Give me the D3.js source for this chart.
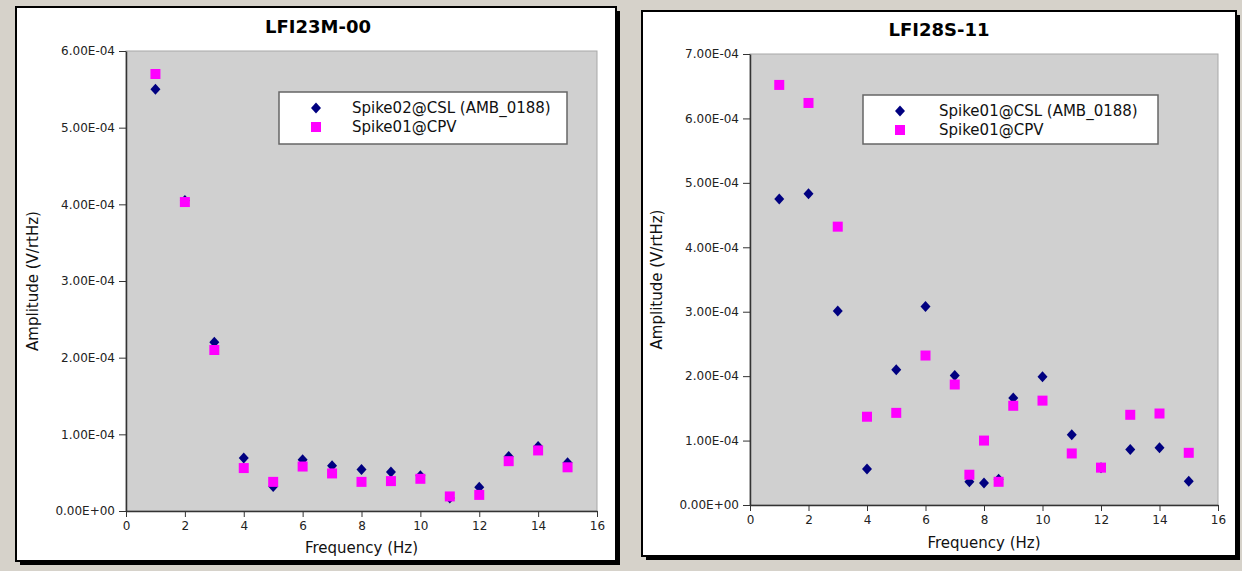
<!DOCTYPE html>
<html>
<head>
<meta charset="utf-8">
<script src="https://cdn.jsdelivr.net/npm/d3@7"></script>
<style>
  html, body { margin: 0; padding: 0; background: #d6d2ca; }
  svg { display: block; font-family: "DejaVu Sans", sans-serif; }
</style>
</head>
<body>
<svg id="chart" width="1242" height="571"></svg>
<script>
// left panel: LFI23M-00
const leftFreq = [1, 2, 3, 4, 5, 6, 7, 8, 9, 10, 11, 12, 13, 14, 15];
const leftCsl = [5.50e-4, 4.05e-4, 2.20e-4, 0.69e-4, 0.32e-4, 0.67e-4, 0.59e-4, 0.54e-4, 0.51e-4, 0.46e-4, 0.17e-4, 0.31e-4, 0.71e-4, 0.84e-4, 0.63e-4];
const leftCpv = [5.70e-4, 4.03e-4, 2.10e-4, 0.56e-4, 0.38e-4, 0.58e-4, 0.49e-4, 0.38e-4, 0.39e-4, 0.42e-4, 0.19e-4, 0.21e-4, 0.65e-4, 0.79e-4, 0.57e-4];

// right panel: LFI28S-11
const rightFreq = [1, 2, 3, 4, 5, 6, 7, 7.5, 8, 8.5, 9, 10, 11, 12, 13, 14, 15];
const rightCsl = [4.75e-4, 4.83e-4, 3.01e-4, 0.56e-4, 2.10e-4, 3.08e-4, 2.01e-4, 0.36e-4, 0.34e-4, 0.40e-4, 1.66e-4, 1.99e-4, 1.09e-4, 0.58e-4, 0.86e-4, 0.89e-4, 0.37e-4];
const rightCpv = [6.52e-4, 6.24e-4, 4.32e-4, 1.37e-4, 1.43e-4, 2.32e-4, 1.87e-4, 0.47e-4, 1.00e-4, 0.36e-4, 1.54e-4, 1.62e-4, 0.80e-4, 0.58e-4, 1.40e-4, 1.42e-4, 0.81e-4];

const xTicks = [0, 2, 4, 6, 8, 10, 12, 14, 16];
const leftYTicks = [0, 1e-4, 2e-4, 3e-4, 4e-4, 5e-4, 6e-4];
const rightYTicks = [0, 1e-4, 2e-4, 3e-4, 4e-4, 5e-4, 6e-4, 7e-4];

const svg = d3.select("#chart");

// 6.00E-04 style labels
function sci(v) {
  if (v === 0) return "0.00E+00";
  const e = Math.floor(Math.log10(Math.abs(v)) + 1e-9);
  const m = v / Math.pow(10, e);
  const sign = e < 0 ? "-" : "+";
  return m.toFixed(2) + "E" + sign + String(Math.abs(e)).padStart(2, "0");
}

// excel style marker, a bit wider than d3's diamond
const diamondPath = "M0,-5.5L5,0L0,5.5L-5,0Z";

function drawPanel(cfg) {
  const g = svg.append("g");

  // shadow + white frame
  g.append("rect")
    .attr("x", cfg.box[0] + 4).attr("y", cfg.box[1] + 4)
    .attr("width", cfg.box[2] - cfg.box[0]).attr("height", cfg.box[3] - cfg.box[1])
    .attr("fill", "#000");
  g.append("rect")
    .attr("x", cfg.box[0]).attr("y", cfg.box[1])
    .attr("width", cfg.box[2] - cfg.box[0]).attr("height", cfg.box[3] - cfg.box[1])
    .attr("fill", "#fff").attr("stroke", "#000").attr("stroke-width", 2);

  const x = d3.scaleLinear().domain([0, 16]).range([cfg.plot.left, cfg.plot.right]);
  const y = d3.scaleLinear().domain(cfg.yDomain).range([cfg.plot.bottom, cfg.plot.top]);

  g.append("rect")
    .attr("x", cfg.plot.left).attr("y", cfg.plot.top)
    .attr("width", cfg.plot.right - cfg.plot.left)
    .attr("height", cfg.plot.bottom - cfg.plot.top)
    .attr("fill", "#d0d0d0").attr("stroke", "#a8a8a8").attr("stroke-width", 1);

  const xAxis = g.append("g")
    .attr("transform", `translate(0,${cfg.plot.bottom})`)
    .call(d3.axisBottom(x).tickValues(xTicks).tickSize(6).tickSizeOuter(0));
  const yAxis = g.append("g")
    .attr("transform", `translate(${cfg.plot.left},0)`)
    .call(d3.axisLeft(y).tickValues(cfg.yTicks).tickFormat(sci).tickSize(7).tickSizeOuter(0));
  [xAxis, yAxis].forEach(a => {
    a.select(".domain").attr("stroke", "#333").attr("stroke-width", 1.5);
    a.selectAll(".tick line").attr("stroke", "#333");
    a.selectAll("text").attr("fill", "#222").style("font-family", "DejaVu Sans").style("font-size", "12px");
  });
  xAxis.selectAll("text").attr("y", 9).attr("dy", "0.8em");
  yAxis.selectAll("text").attr("x", -11);

  g.append("text")
    .attr("x", cfg.titleX).attr("y", cfg.titleY)
    .attr("text-anchor", "middle")
    .style("font-size", "18px").style("font-weight", "bold")
    .text(cfg.title);

  g.append("text")
    .attr("x", (cfg.plot.left + cfg.plot.right) / 2)
    .attr("y", cfg.xLabelY)
    .attr("text-anchor", "middle")
    .style("font-size", "15px").attr("fill", "#111")
    .text("Frequency (Hz)");

  g.append("text")
    .attr("transform", `translate(${cfg.yLabelX},${(cfg.plot.top + cfg.plot.bottom) / 2}) rotate(-90)`)
    .attr("text-anchor", "middle")
    .style("font-size", "15px").attr("fill", "#111")
    .text("Amplitude (V/rtHz)");

  g.append("g").selectAll("path")
    .data(cfg.freq.map((f, i) => [f, cfg.csl[i]]))
    .join("path")
    .attr("d", diamondPath)
    .attr("transform", d => `translate(${x(d[0])},${y(d[1])})`)
    .attr("fill", "#000080");

  g.append("g").selectAll("rect")
    .data(cfg.freq.map((f, i) => [f, cfg.cpv[i]]))
    .join("rect")
    .attr("x", d => x(d[0]) - 5).attr("y", d => y(d[1]) - 5)
    .attr("width", 10).attr("height", 10)
    .attr("fill", "#ff00ff");

  // legend
  const lg = cfg.legend;
  g.append("rect")
    .attr("x", lg.x).attr("y", lg.y).attr("width", lg.w).attr("height", lg.h)
    .attr("fill", "#fff").attr("stroke", "#666").attr("stroke-width", 1.5);
  g.append("path")
    .attr("d", diamondPath)
    .attr("transform", `translate(${lg.symX},${lg.y + 16})`)
    .attr("fill", "#000080");
  g.append("rect")
    .attr("x", lg.symX - 5).attr("y", lg.y + 35 - 5)
    .attr("width", 10).attr("height", 10).attr("fill", "#ff00ff");
  g.append("text")
    .attr("x", lg.textX).attr("y", lg.y + 16).attr("dy", "0.35em")
    .style("font-size", "15px").attr("fill", "#111").text(lg.names[0]);
  g.append("text")
    .attr("x", lg.textX).attr("y", lg.y + 35).attr("dy", "0.35em")
    .style("font-size", "15px").attr("fill", "#111").text(lg.names[1]);
}

drawPanel({
  box: [16, 7, 616, 561],
  plot: { left: 126, right: 597, top: 51, bottom: 511 },
  yDomain: [0, 6e-4],
  yTicks: leftYTicks,
  title: "LFI23M-00", titleX: 318, titleY: 33,
  xLabelY: 553, yLabelX: 38,
  freq: leftFreq, csl: leftCsl, cpv: leftCpv,
  legend: { x: 279, y: 92, w: 288, h: 52, symX: 316, textX: 352,
            names: ["Spike02@CSL (AMB_0188)", "Spike01@CPV"] }
});

drawPanel({
  box: [642, 11, 1236, 556],
  plot: { left: 750, right: 1218, top: 54, bottom: 505 },
  yDomain: [0, 7e-4],
  yTicks: rightYTicks,
  title: "LFI28S-11", titleX: 939, titleY: 36,
  xLabelY: 548, yLabelX: 662,
  freq: rightFreq, csl: rightCsl, cpv: rightCpv,
  legend: { x: 863, y: 95, w: 295, h: 49, symX: 900, textX: 939,
            names: ["Spike01@CSL (AMB_0188)", "Spike01@CPV"] }
});
</script>
</body>
</html>
